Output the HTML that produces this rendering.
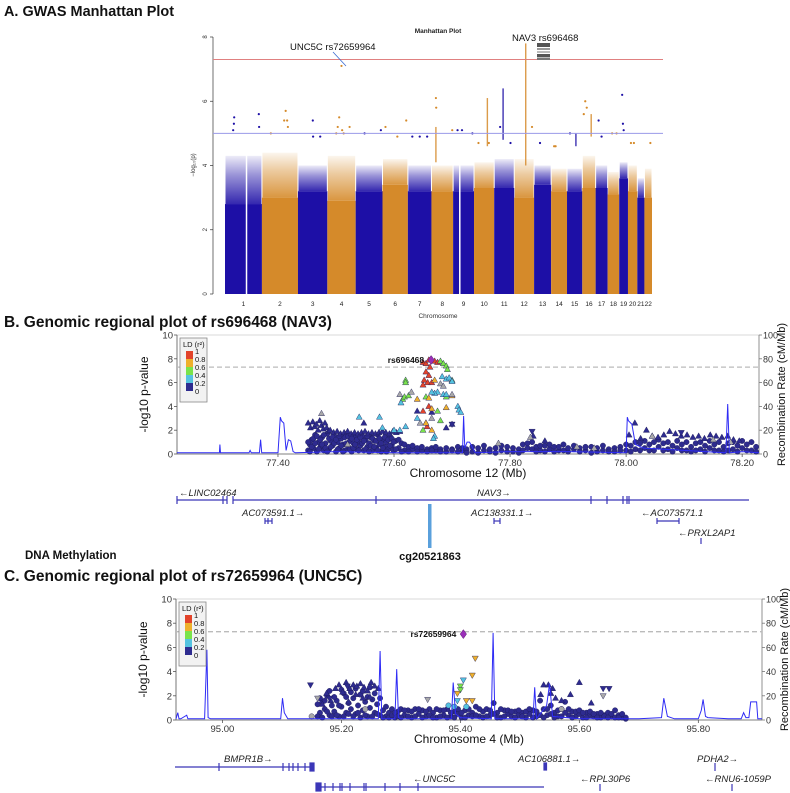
<!DOCTYPE html>
<html><head><meta charset="utf-8"><style>
html,body{margin:0;padding:0;background:#fff;}
svg{display:block;font-family:"Liberation Sans",sans-serif;}
</style></head><body>
<svg id="fig" width="790" height="793" viewBox="0 0 790 793" xmlns="http://www.w3.org/2000/svg">
<defs>
<linearGradient id="gBlue" x1="0" y1="1" x2="0" y2="0"><stop offset="0" stop-color="#1d0fa6" stop-opacity="0.9"/><stop offset="0.6" stop-color="#1d0fa6" stop-opacity="0.45"/><stop offset="1" stop-color="#1d0fa6" stop-opacity="0.08"/></linearGradient>
<linearGradient id="gOrange" x1="0" y1="1" x2="0" y2="0"><stop offset="0" stop-color="#d58a2a" stop-opacity="0.9"/><stop offset="0.6" stop-color="#d58a2a" stop-opacity="0.45"/><stop offset="1" stop-color="#d58a2a" stop-opacity="0.08"/></linearGradient>
</defs>
<rect width="790" height="793" fill="#fff"/>
<text x="4" y="16" font-size="15" font-weight="bold" fill="#111" textLength="170" lengthAdjust="spacingAndGlyphs">A. GWAS Manhattan Plot</text>
<text x="4" y="327" font-size="15.5" font-weight="bold" fill="#111">B. Genomic regional plot of rs696468 (NAV3)</text>
<text x="25" y="559" font-size="11.5" font-weight="bold" fill="#111">DNA Methylation</text>
<text x="4" y="581" font-size="15.5" font-weight="bold" fill="#111">C. Genomic regional plot of rs72659964 (UNC5C)</text>
<g id="man"></g>
<g id="regB"></g>
<g id="regC"></g>
<g id="genes"></g>
</svg>
<script>
// ===== Manhattan data =====
const chrNames=["1","2","3","4","5","6","7","8","9","10","11","12","13","14","15","16","17","18","19","20","21","22"];
const chrLenMb=[249,243,198,191,181,171,159,146,141,136,135,134,115,107,103,90,81,78,59,63,48,51];
const chrSolid=[2.8,3.0,3.2,2.9,3.2,3.4,3.2,3.2,3.2,3.3,3.3,3.0,3.4,3.2,3.2,3.3,3.3,3.1,3.6,3.2,3.0,3.0];
const chrDense=[4.3,4.4,4.0,4.3,4.0,4.2,4.0,4.0,4.0,4.1,4.2,4.2,4.0,3.9,3.9,4.3,4.0,3.8,4.1,4.0,3.6,3.9];
const gapChr=[1,9];
const gapStartMb=[140,40];
const gapEndMb=[146,48];
const streakChr=[11,12,10,16,8,15];
const streakMb=[60,77.6,90,60,30,60];
const streakLo=[4.8,4.0,4.6,4.9,4.1,4.6];
const streakHi=[6.4,7.8,6.1,5.6,5.2,5.0];
const topChr=[1,1,1,1,1,2,2,2,2,2,3,3,3,4,4,4,4,4,4,5,5,6,6,6,7,7,7,8,8,8,9,9,9,10,10,11,11,12,13,14,14,15,16,16,16,17,17,18,18,19,19,19,20,20,22,4];
const topMb=[60,62,55,228,230,60,150,160,170,175,100,102,150,60,70,80,100,110,150,60,170,20,160,100,30,80,130,30,32,140,30,60,130,30,100,40,110,120,40,20,30,20,10,20,30,20,40,30,60,20,25,30,20,40,40,95.4];
const topP=[5.3,5.5,5.1,5.6,5.2,5.0,5.4,5.7,5.4,5.2,5.4,4.9,4.9,5.0,5.2,5.5,5.1,5.0,5.2,5.0,5.1,5.2,5.4,4.9,4.9,4.9,4.9,6.1,5.8,5.1,5.1,5.1,5.0,4.7,4.7,5.2,4.7,5.2,4.7,4.6,4.6,5.0,5.6,6.0,5.8,5.4,4.9,5.0,5.0,6.2,5.3,5.1,4.7,4.7,4.7,7.1];
const manTicks=[0,2,4,6,8];
const sigLine=7.3, sugLine=5.0;

// ===== Regional B data (chr12) =====
const bTicks=[77.40,77.60,77.80,78.00,78.20];
const bRecPos=[77.226,77.28,77.299,77.300,77.301,77.35,77.352,77.354,77.368,77.370,77.372,77.40,77.404,77.406,77.410,77.414,77.418,77.422,77.426,77.43,77.5,77.6,77.718,77.720,77.722,77.726,77.730,77.74,77.8,77.9,78.0,78.002,78.004,78.010,78.016,78.03,78.1,78.172,78.175,78.178,78.2,78.229];
const bRecRate=[1,1,1,8,1,1,3,1,1,12,1,1,31,28,26,3,12,11,2,1,2,1,1,32,5,10,10,1,2,2,1,31,28,25,8,5,3,1,42,1,2,1];
const bNavyCircPos=[77.452,77.455,77.458,77.461,77.464,77.467,77.470,77.473,77.476,77.479,77.482,77.485,77.488,77.491,77.494,77.497,77.500,77.503,77.506,77.509,77.512,77.515,77.518,77.521,77.524,77.527,77.530,77.533,77.536,77.539,77.542,77.545,77.548,77.551,77.554,77.557,77.560,77.563,77.566,77.569,77.572,77.575,77.578,77.581,77.584,77.587,77.590,77.593,77.596,77.599,77.603,77.608,77.613,77.618,77.625,77.632,77.640,77.648,77.657,77.665,77.672,77.680,77.690,77.700,77.710,77.718];
const bNavyCircP=[0.3,0.8,1.2,0.5,1.6,0.2,1.0,0.6,1.4,0.3,0.9,1.7,0.4,1.1,0.7,1.5,0.2,1.0,0.5,1.3,0.8,0.3,1.6,0.6,1.1,0.2,0.9,1.4,0.4,1.0,0.7,1.5,0.3,1.2,0.6,0.9,1.4,0.3,1.1,0.5,1.6,0.8,0.2,1.2,0.6,1.0,0.4,1.5,0.7,0.3,1.1,0.5,0.9,0.3,0.6,0.4,0.5,0.3,0.4,0.5,0.3,0.4,0.2,0.4,0.6,0.3];
const bNavyCircP2=[1.0,0.2,0.6,1.3,0.9,1.5,0.4,1.2,0.8,1.6,0.5,0.2,1.3,0.6,1.4,0.9,1.2,0.4,1.5,0.7,0.2,1.4,0.9,1.5,0.4,1.3,0.5,0.8,1.2,0.3,1.4,0.9,1.1,0.4,1.5,0.2,0.7,1.3,0.6,1.1,0.3,1.3,0.9,0.5,1.4,0.2,1.2,0.7,1.3,1.0,0.4,1.2,0.2,0.8,0.2,0.7,0.2,0.6,0.2,0.3,0.6,0.2,0.5,0.3,0.2,0.5];
const bNavyTriPos=[77.452,77.456,77.460,77.463,77.466,77.469,77.472,77.475,77.478,77.481,77.484,77.487,77.490,77.496,77.502,77.508,77.514,77.520,77.526,77.532,77.538,77.544,77.550,77.556,77.562,77.568,77.574,77.580,77.586,77.592,77.598,77.604,77.610,77.640,77.665,77.690,77.700,77.548];
const bNavyTriP=[2.6,2.2,2.7,2.3,2.5,2.0,2.8,2.4,2.1,2.6,2.2,1.9,2.0,1.8,1.9,1.7,1.8,1.9,1.7,1.8,1.7,1.8,1.9,1.7,1.8,1.7,1.8,1.9,1.8,1.7,1.9,1.8,1.9,3.6,3.5,2.2,2.5,2.6];
const bFarPos=[77.725,77.735,77.745,77.755,77.765,77.775,77.785,77.795,77.805,77.815,77.822,77.830,77.838,77.845,77.852,77.860,77.868,77.876,77.884,77.892,77.900,77.910,77.920,77.930,77.940,77.950,77.960,77.970,77.980,77.990,78.000,78.008,78.016,78.024,78.032,78.040,78.048,78.056,78.064,78.072,78.080,78.088,78.096,78.104,78.112,78.120,78.128,78.136,78.144,78.152,78.160,78.168,78.176,78.184,78.192,78.200,78.208,78.216,78.224];
const bFarP=[0.4,0.2,0.5,0.3,0.2,0.5,0.3,0.6,0.2,0.4,0.8,0.5,1.0,0.6,0.3,0.7,0.4,0.6,0.3,0.8,0.2,0.4,0.5,0.3,0.6,0.2,0.3,0.4,0.5,0.6,0.3,0.7,0.4,0.9,0.5,0.8,0.3,0.6,0.9,0.4,0.7,0.5,0.8,0.3,0.6,0.9,0.4,0.7,0.5,0.8,0.3,0.6,0.9,0.4,0.7,0.5,0.8,0.3,0.6];
const bFarP2=[0.1,0.6,0.1,0.7,0.4,0.1,0.7,0.2,0.5,0.1,0.3,0.9,0.4,0.2,0.7,0.2,0.8,0.2,0.6,0.3,0.5,0.7,0.2,0.6,0.1,0.5,0.7,0.2,0.2,0.3,0.8,0.2,1.0,0.3,1.1,0.3,1.0,1.2,0.3,1.0,0.2,1.1,0.3,1.0,0.2,0.3,1.0,0.2,1.1,0.3,1.0,0.2,0.3,1.0,0.2,1.1,0.3,1.0,0.2];
const bFarTriPos=[77.840,77.860,78.005,78.015,78.025,78.035,78.045,78.055,78.065,78.075,78.085,78.095,78.105,78.115,78.125,78.135,78.145,78.155,78.165,78.175,78.185,78.195];
const bFarTriP=[1.5,1.1,1.6,2.6,1.3,2.0,1.5,1.4,1.6,1.9,1.7,1.5,1.6,1.4,1.5,1.3,1.6,1.5,1.4,1.5,1.2,1.1];
const bHiPos=[77.650,77.655,77.660,77.670,77.675,77.662,77.655,77.660,77.652,77.658,77.665,77.650,77.660,77.650,77.655,77.657,
 77.680,77.685,77.690,77.692,77.700,77.620,77.620,77.615,77.618,77.625,77.655,77.675,77.680,77.650,77.690,
 77.683,77.690,77.695,77.675,77.670,77.665,77.685,77.690,77.612,77.710,77.712,77.715,77.640,77.540,77.575,77.620,77.610,77.600,77.670,77.668,77.700,77.580,
 77.670,77.640,77.660,77.690,77.665,77.665,77.655,77.700,
 77.475,77.630,77.680,77.700,77.685,77.610,77.665,77.645,77.520,77.780,77.835,78.045,78.150,78.180,77.945,77.915];
const bHiP=[7.7,7.6,7.9,7.8,7.7,7.3,6.9,6.6,6.2,6.0,6.0,5.8,4.0,3.6,2.6,2.3,
 7.8,7.6,7.4,7.1,6.2,6.2,6.0,4.6,4.8,4.9,4.8,3.6,2.8,2.0,4.8,
 6.5,6.3,6.4,5.2,5.1,5.2,5.0,5.0,4.3,4.0,3.7,3.5,3.0,3.1,3.1,2.3,2.0,2.0,1.5,1.3,6.1,2.2,
 6.2,4.6,4.7,3.9,3.8,2.0,2.6,4.9,
 3.4,5.2,5.9,5.0,5.7,5.0,3.0,2.6,0.8,0.9,1.4,1.5,1.2,1.0,0.5,0.6];
const bHiLD=[4,4,4,4,4,4,4,4,4,4,4,4,4,4,4,4,
 2,2,2,2,2,2,2,2,2,2,2,2,2,2,2,
 1,1,1,1,1,1,1,1,1,1,1,1,1,1,1,1,1,1,1,1,1,1,
 3,3,3,3,3,3,3,3,
 5,5,5,5,5,5,5,5,5,5,5,5,5,5,5,5];
const bDownPos=[77.700,77.838,78.095];
const bDownP=[2.5,1.9,1.8];
const bLeadPos=77.664, bLeadP=7.9;

// ===== Regional C data (chr4) =====
const cTicks=[95.00,95.20,95.40,95.60,95.80];
const cRecPos=[94.922,94.925,94.927,94.93,94.94,94.942,94.945,94.97,94.974,94.976,94.98,95.0,95.05,95.098,95.101,95.104,95.11,95.2,95.262,95.265,95.268,95.29,95.293,95.296,95.30,95.35,95.385,95.388,95.392,95.40,95.452,95.455,95.458,95.50,95.522,95.525,95.528,95.545,95.55,95.555,95.6,95.70,95.738,95.742,95.748,95.76,95.80,95.805,95.808,95.812,95.816,95.85,95.872,95.876,95.88,95.885,95.888,95.898,95.90,95.907];
const cRecRate=[1,6,1,1,4,1,1,1,58,2,1,1,1,1,18,6,1,1,1,57,1,1,42,2,1,1,1,31,5,2,1,72,1,1,1,27,1,12,30,3,1,1,2,18,3,1,1,8,17,3,2,1,1,6,2,2,15,15,1,1];
const cNavyCircPos=[95.160,95.164,95.168,95.172,95.176,95.180,95.184,95.188,95.192,95.196,95.200,95.204,95.208,95.212,95.216,95.220,95.224,95.228,95.232,95.236,95.240,95.244,95.248,95.252,95.256,95.260,95.265,95.270,95.275,95.280,95.285,95.290,95.295,95.300,95.306,95.312,95.318,95.324,95.330,95.336,95.342,95.348,95.354,95.360,95.366,95.372,95.378,95.384,95.390,95.396,95.402,95.408,95.414,95.420,95.426,95.432,95.438,95.444,95.450,95.456,95.462,95.468,95.474,95.480,95.486,95.492,95.498,95.504,95.510,95.516,95.522,95.528,95.534,95.540,95.546,95.552,95.558,95.564,95.570,95.576,95.582,95.588,95.594,95.600,95.606,95.612,95.618,95.624,95.630,95.636,95.642,95.648,95.654,95.660,95.666,95.672,95.678];
const cNavyCircP=[1.3,0.6,1.5,0.9,2.0,0.4,1.2,0.7,1.6,0.3,1.1,2.2,0.6,1.4,0.9,1.8,0.5,1.2,2.1,0.8,1.5,0.3,1.0,1.7,0.6,1.3,0.4,0.8,0.3,0.6,0.9,0.2,0.7,0.9,0.4,0.8,0.2,0.9,0.5,0.8,0.3,0.9,0.6,0.2,0.8,0.4,0.9,0.3,0.7,0.5,0.2,0.8,0.4,0.6,1.1,0.3,0.7,0.9,0.4,1.4,0.6,0.2,0.8,0.5,0.3,0.7,0.4,0.6,0.2,0.5,0.8,0.3,1.6,0.9,0.4,1.2,0.6,0.3,0.9,1.5,0.4,0.7,0.3,0.5,0.2,0.6,0.4,0.3,0.5,0.2,0.4,0.6,0.3,0.8,0.4,0.2,0.1];
const cNavyCircP2=[0.3,1.8,0.2,1.6,0.7,2.4,0.3,1.9,0.4,1.2,2.5,0.3,1.9,0.5,2.3,0.3,2.6,0.6,0.2,2.4,0.4,1.9,2.7,0.3,2.2,0.5,1.8,0.2,1.1,0.2,0.4,0.6,0.3,0.2,0.8,0.3,0.7,0.3,0.9,0.2,0.7,0.4,0.2,0.9,0.3,0.8,0.2,0.6,0.2,0.9,0.6,0.2,0.9,0.3,0.4,0.9,0.2,0.3,0.8,0.5,0.2,0.9,0.3,0.8,0.7,0.2,0.8,0.3,0.7,0.9,0.2,0.7,0.4,0.2,0.9,0.5,0.2,0.8,0.3,0.6,0.9,0.2,0.7,0.8,0.6,0.2,0.7,0.5,0.2,0.6,0.3,0.2,0.5,0.2,0.2,0.5,0.2];
const cNavyTriPos=[95.168,95.175,95.182,95.190,95.196,95.202,95.208,95.214,95.220,95.226,95.232,95.238,95.244,95.250,95.256,95.262,95.248,95.236,95.224,95.212,95.540,95.548,95.552,95.560,95.570,95.585,95.600,95.620,95.535,95.555];
const cNavyTriP=[1.3,2.2,1.6,2.6,2.9,2.3,3.1,2.6,2.9,2.8,3.0,2.7,2.4,3.1,2.8,2.6,1.9,1.8,2.1,1.5,2.9,2.9,2.2,1.8,1.6,2.1,3.1,1.4,2.1,2.6];
const cHiPos=[95.425,95.420,95.410,95.420,95.405,95.400,95.400,95.395,95.390,95.380,95.395,95.410,95.160,95.640,95.345,95.150,95.240,95.570];
const cHiP=[5.1,3.7,1.6,1.6,3.3,2.8,2.5,2.2,1.1,1.2,1.6,1.1,1.8,2.0,1.7,0.3,0.9,0.9];
const cHiLD=[3,3,3,3,1,2,2,3,1,1,1,1,5,5,5,5,5,5];
const cHiShape=["v","v","v","v","v","v","v","v","c","c","v","c","v","v","v","c","c","c"];
const cDownPos=[95.148,95.210,95.180,95.650,95.640];
const cDownP=[2.9,2.8,1.8,2.6,2.6];
const cLeadPos=95.405, cLeadP=7.1;

const ldColors=["#2e2b8f","#55c3e0","#7ae34b","#eeb02c","#e2432a","#a9a9a9"];
const ldLabels=["0","0.2","0.4","0.6","0.8","1"];

const NS="http://www.w3.org/2000/svg";
function mk(parent,tag,attrs,text){const e=document.createElementNS(NS,tag);for(const k in attrs)e.setAttribute(k,attrs[k]);if(text!==undefined)e.textContent=text;parent.appendChild(e);return e;}

// ===== Manhattan =====
(function(){
 const g=document.getElementById('man');
 const X0=225,X1=652,Y0=294,Y8=37;
 const total=chrLenMb.reduce((a,b)=>a+b,0);
 const yS=v=>Y0+(Y8-Y0)*v/8;
 const offs=[];let acc=0;chrLenMb.forEach(l=>{offs.push(acc);acc+=l;});
 const xS=(ci,mb)=>X0+(offs[ci]+mb)/total*(X1-X0);
 const cols=["#1d0fa6","#d58a2a"];
 const grads=["url(#gBlue)","url(#gOrange)"];
 chrNames.forEach((n,i)=>{
  const xa=xS(i,0),xb=xS(i,chrLenMb[i]),c=cols[i%2];
  let r=mk(g,'rect',{x:xa,y:yS(chrSolid[i]),width:xb-xa,height:Y0-yS(chrSolid[i]),fill:c});
  
  
  let r2=mk(g,'rect',{x:xa+0.5,y:yS(chrDense[i]),width:xb-xa-1,height:yS(chrSolid[i])-yS(chrDense[i]),fill:grads[i%2]});
  
  
  let t=mk(g,'text',{x:(xa+xb)/2,y:306,'font-size':6.5,'text-anchor':'middle',fill:'#222'},n);
  
  
 });
 gapChr.forEach((c,k)=>{
  const xa=xS(c-1,gapStartMb[k]),xb=xS(c-1,gapEndMb[k]);
  let r=mk(g,'rect',{x:xa,y:yS(4.5),width:Math.max(1.5,xb-xa),height:Y0-yS(4.5),fill:'#fff'});
  
  
 });
 streakChr.forEach((c,k)=>{
  const x=xS(c-1,streakMb[k]);
  let r=mk(g,'rect',{x:x-0.7,y:yS(streakHi[k]),width:1.4,height:yS(streakLo[k])-yS(streakHi[k]),fill:cols[(c-1)%2],opacity:0.85});
  
  
 });
 topChr.forEach((c,k)=>{
  let p=mk(g,'circle',{cx:xS(c-1,topMb[k]),cy:yS(topP[k]),r:1.1,fill:cols[(c-1)%2]});
  
  
 });
 let ax=mk(g,'line',{x1:213,y1:yS(0),x2:213,y2:yS(8),stroke:'#333','stroke-width':0.7});
 
 manTicks.forEach(v=>{
  mk(g,'line',{x1:210,y1:yS(v),x2:213,y2:yS(v),stroke:'#333','stroke-width':0.7});
  let t=mk(g,'text',{x:205,y:yS(v)+2,'font-size':6,'text-anchor':'middle',fill:'#333',transform:`rotate(-90 205 ${yS(v)})`},String(v));
  
 });
 let sl=mk(g,'line',{x1:213,y1:yS(sigLine),x2:663,y2:yS(sigLine),stroke:'#e08080','stroke-width':1});
 
 let bl=mk(g,'line',{x1:213,y1:yS(sugLine),x2:663,y2:yS(sugLine),stroke:'#9a9ae8','stroke-width':1});
 
})();
</script>
<script>
(function(){
 const g=document.getElementById('man');
 const s=`
<text x="438" y="33" font-size="6.5" font-weight="bold" text-anchor="middle" fill="#222">Manhattan Plot</text>
<text x="195" y="165" font-size="6" text-anchor="middle" fill="#333" transform="rotate(-90 195 165)">−log₁₀(p)</text>
<text x="438" y="318" font-size="6.5" text-anchor="middle" fill="#333">Chromosome</text>
<text x="290" y="50" font-size="9.5" fill="#111">UNC5C rs72659964</text>
<line x1="333" y1="52" x2="346" y2="66" stroke="#3a6ad0" stroke-width="0.8"/>
<text x="512" y="41" font-size="9.5" fill="#111">NAV3 rs696468</text>
<g fill="#555">
<rect x="537" y="43" width="13" height="4"/><rect x="537" y="48" width="13" height="2" fill="#999"/><rect x="537" y="51" width="13" height="2" fill="#bbb"/><rect x="537" y="54" width="13" height="3"/><rect x="537" y="57.5" width="13" height="2.5" fill="#777"/></g>`;
 g.insertAdjacentHTML('beforeend',s);
})();

function regional(gid,cfg){
 const g=document.getElementById(gid);
 const {X0,X1,Y0,Y10,dMin,dMax}=cfg;
 const xS=v=>X0+(v-dMin)/(dMax-dMin)*(X1-X0);
 const yS=v=>Y0+(Y10-Y0)*v/10;
 const rS=v=>Y0+(Y10-Y0)*v/100;
 let fr=mk(g,'line',{x1:X0,y1:Y10,x2:X1,y2:Y10,stroke:'#ccc','stroke-width':0.8});
 
 let la=mk(g,'line',{x1:X0,y1:Y0,x2:X0,y2:Y10,stroke:'#555','stroke-width':0.8});
 
 let ra=mk(g,'line',{x1:X1,y1:Y0,x2:X1,y2:Y10,stroke:'#777','stroke-width':0.8});
 
 let xa=mk(g,'line',{x1:X0,y1:Y0,x2:X1,y2:Y0,stroke:'#555','stroke-width':0.8});
 
 [0,2,4,6,8,10].forEach(v=>{
  mk(g,'line',{x1:X0-3,y1:yS(v),x2:X0,y2:yS(v),stroke:'#555','stroke-width':0.8});
  let t=mk(g,'text',{x:X0-4,y:yS(v)+3.5,'font-size':9.5,'text-anchor':'end',fill:'#333'},String(v));
  
 });
 [0,20,40,60,80,100].forEach(v=>{
  mk(g,'line',{x1:X1,y1:rS(v),x2:X1+3,y2:rS(v),stroke:'#777','stroke-width':0.8});
  let t=mk(g,'text',{x:X1+4,y:rS(v)+3.5,'font-size':9,fill:'#333'},String(v));
  
 });
 cfg.ticks.forEach(v=>{
  mk(g,'line',{x1:xS(v),y1:Y0,x2:xS(v),y2:Y0+3,stroke:'#555','stroke-width':0.8});
  let t=mk(g,'text',{x:xS(v),y:Y0+12,'font-size':9.5,'text-anchor':'middle',fill:'#333'},v.toFixed(2));
  
 });
 const cy=(Y0+Y10)/2;
 let yt=mk(g,'text',{x:X0-29,y:cy,'font-size':12,'text-anchor':'middle',fill:'#111',transform:`rotate(-90 ${X0-29} ${cy})`},'-log10 p-value');
 
 let rt=mk(g,'text',{x:X1+26,y:cy,'font-size':11,'text-anchor':'middle',fill:'#111',transform:`rotate(-90 ${X1+26} ${cy})`},'Recombination Rate (cM/Mb)');
 
 let xt=mk(g,'text',{x:(X0+X1)/2,y:Y0+23,'font-size':12,'text-anchor':'middle',fill:'#111'},cfg.xTitle);
 
 let dl=mk(g,'line',{x1:X0,y1:yS(7.3),x2:X1,y2:yS(7.3),stroke:'#bbb','stroke-width':1.3,'stroke-dasharray':'5,3'});
 
 function pt(pos,p,ld,shape){
  const x=xS(pos),y=yS(p),f=ldColors[ld],st='#1c1b55';
  let e;
  if(shape==='c') e=mk(g,'circle',{cx:x,cy:y,r:2.7,fill:f,stroke:st,'stroke-width':0.4});
  else if(shape==='t') e=mk(g,'path',{d:`M${x} ${y-3.3}L${x+3.1} ${y+2.2}L${x-3.1} ${y+2.2}Z`,fill:f,stroke:st,'stroke-width':0.4});
  else if(shape==='v') e=mk(g,'path',{d:`M${x} ${y+3.3}L${x+3.1} ${y-2.2}L${x-3.1} ${y-2.2}Z`,fill:f,stroke:st,'stroke-width':0.4});
  else e=mk(g,'path',{d:`M${x} ${y-4.5}L${x+3.2} ${y}L${x} ${y+4.5}L${x-3.2} ${y}Z`,fill:'#9a2fb8',stroke:'#5a1a70','stroke-width':0.5});
  
  
 }
 cfg.layers.forEach(L=>{L.pos.forEach((v,i)=>{if(i<L.p.length)pt(v,L.p[i],L.ld?L.ld[i]:0,L.shapes?L.shapes[i]:L.shape);});});
 const d=cfg.recPos.map((v,i)=>(i?'L':'M')+xS(v).toFixed(1)+' '+rS(cfg.recRate[i]).toFixed(1)).join('');
 let rl=mk(g,'path',{d:d,fill:'none',stroke:'#2f2cf5','stroke-width':1});
 
 pt(cfg.leadPos,cfg.leadP,0,'d');
 let ll=mk(g,'text',{x:xS(cfg.leadPos)-7,y:yS(cfg.leadP)+3,'font-size':8.5,'font-weight':'bold','text-anchor':'end',fill:'#111'},cfg.leadName);
 
 const lx=X0+3,ly=Y10+3;
 let lg=mk(g,'g',{});
 
 mk(lg,'rect',{x:lx,y:ly,width:27,height:64,fill:'#f2f2f2',stroke:'#888','stroke-width':0.8});
 mk(lg,'text',{x:lx+3,y:ly+9,'font-size':7.5,fill:'#111'},'LD (r²)');
 for(let k=0;k<5;k++){
  mk(lg,'rect',{x:lx+6,y:ly+13+k*8,width:7,height:8,fill:ldColors[4-k]});
 }
 ldLabels.slice().reverse().forEach((s,k)=>{mk(lg,'text',{x:lx+15,y:ly+16+k*8,'font-size':7.5,fill:'#111'},s);});
}

regional('regB',{X0:177,X1:759,Y0:454,Y10:335,dMin:77.226,dMax:78.229,ticks:bTicks,xTitle:'Chromosome 12 (Mb)',
 recPos:bRecPos,recRate:bRecRate,leadPos:bLeadPos,leadP:bLeadP,leadName:'rs696468',
 layers:[{pos:bNavyCircPos,p:bNavyCircP,shape:'c'},{pos:bNavyCircPos,p:bNavyCircP2,shape:'c'},
  {pos:bFarPos,p:bFarP,shape:'c'},{pos:bFarPos,p:bFarP2,shape:'c'},
  {pos:bNavyTriPos,p:bNavyTriP,shape:'t'},{pos:bFarTriPos,p:bFarTriP,shape:'t'},
  {pos:bDownPos,p:bDownP,shape:'v'},{pos:bHiPos,p:bHiP,ld:bHiLD,shape:'t'}]});

regional('regC',{X0:176,X1:762,Y0:720,Y10:599,dMin:94.922,dMax:95.907,ticks:cTicks,xTitle:'Chromosome 4 (Mb)',
 recPos:cRecPos,recRate:cRecRate,leadPos:cLeadPos,leadP:cLeadP,leadName:'rs72659964',
 layers:[{pos:cNavyCircPos,p:cNavyCircP,shape:'c'},{pos:cNavyCircPos,p:cNavyCircP2,shape:'c'},
  {pos:cNavyTriPos,p:cNavyTriP,shape:'t'},{pos:cDownPos,p:cDownP,shape:'v'},
  {pos:cHiPos,p:cHiP,ld:cHiLD,shapes:cHiShape}]});

document.getElementById('genes').insertAdjacentHTML('beforeend',`
<g stroke="#3b36b8" stroke-width="1.2" fill="none">
<line x1="177" y1="500" x2="227" y2="500"/><line x1="177" y1="496" x2="177" y2="504"/><line x1="223" y1="496" x2="223" y2="504"/><line x1="227" y1="496" x2="227" y2="504"/>
<line x1="233" y1="500" x2="749" y2="500"/><line x1="233" y1="496" x2="233" y2="504"/><line x1="376" y1="496" x2="376" y2="504"/>
<line x1="591" y1="496" x2="591" y2="504"/><line x1="607" y1="496" x2="607" y2="504"/><line x1="623" y1="496" x2="623" y2="504"/><line x1="627" y1="496" x2="627" y2="504"/><line x1="629" y1="496" x2="629" y2="504"/>
<line x1="265" y1="521" x2="272" y2="521"/><line x1="265" y1="518" x2="265" y2="524"/><line x1="268" y1="518" x2="268" y2="524"/><line x1="272" y1="518" x2="272" y2="524"/>
<line x1="494" y1="521" x2="500" y2="521"/><line x1="494" y1="518" x2="494" y2="524"/><line x1="500" y1="518" x2="500" y2="524"/>
<line x1="657" y1="521" x2="679" y2="521"/><line x1="657" y1="518" x2="657" y2="524"/><line x1="679" y1="518" x2="679" y2="524"/>
<line x1="701" y1="538" x2="701" y2="544"/>
</g>
<g font-size="9.5" font-style="italic" fill="#222">
<text x="179" y="496">←LINC02464</text>
<text x="477" y="496">NAV3→</text>
<text x="242" y="516">AC073591.1→</text>
<text x="471" y="516">AC138331.1→</text>
<text x="641" y="516">←AC073571.1</text>
<text x="678" y="536">←PRXL2AP1</text>
</g>
<rect x="428" y="504" width="3.5" height="44" fill="#5aa0dc"/>
<text x="430" y="560" font-size="11" font-weight="bold" text-anchor="middle" fill="#111">cg20521863</text>
<g stroke="#3b36b8" stroke-width="1.2" fill="none">
<line x1="175" y1="767" x2="314" y2="767"/><line x1="219" y1="763" x2="219" y2="771"/><line x1="283" y1="763" x2="283" y2="771"/><line x1="289" y1="763" x2="289" y2="771"/><line x1="293" y1="763" x2="293" y2="771"/><line x1="298" y1="763" x2="298" y2="771"/><line x1="305" y1="763" x2="305" y2="771"/>
<rect x="310" y="763" width="4" height="8" fill="#3b36b8"/>
<line x1="318" y1="787" x2="544" y2="787"/><rect x="316" y="783" width="5" height="8" fill="#3b36b8"/>
<line x1="325" y1="783" x2="325" y2="791"/><line x1="333" y1="783" x2="333" y2="791"/><line x1="340" y1="783" x2="340" y2="791"/><line x1="342" y1="783" x2="342" y2="791"/><line x1="350" y1="783" x2="350" y2="791"/><line x1="364" y1="783" x2="364" y2="791"/><line x1="366" y1="783" x2="366" y2="791"/><line x1="385" y1="783" x2="385" y2="791"/><line x1="400" y1="783" x2="400" y2="791"/><line x1="418" y1="783" x2="418" y2="791"/>
<rect x="544" y="763" width="2.5" height="7" fill="#3b36b8"/>
<line x1="600" y1="784" x2="600" y2="791"/><line x1="715" y1="763" x2="715" y2="771"/><line x1="732" y1="784" x2="732" y2="791"/>
</g>
<g font-size="9.5" font-style="italic" fill="#222">
<text x="224" y="762">BMPR1B→</text>
<text x="413" y="782">←UNC5C</text>
<text x="518" y="762">AC106881.1→</text>
<text x="580" y="782">←RPL30P6</text>
<text x="697" y="762">PDHA2→</text>
<text x="705" y="782">←RNU6-1059P</text>
</g>`);
</script>
</body></html>
